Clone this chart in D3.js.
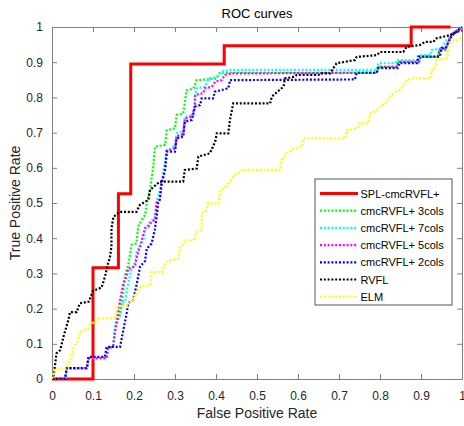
<!DOCTYPE html>
<html>
<head>
<meta charset="utf-8">
<script src="https://cdn.jsdelivr.net/npm/d3@7"></script>
<style>
  body { margin: 0; background: #fff; }
  text { font-family: "Liberation Sans", Arial, sans-serif; }
</style>
</head>
<body>
<script>
// ROC points, [false positive rate, true positive rate]
var rocSPL = [[0,0],[0.1,0],[0.1,0.316],[0.162,0.316],[0.162,0.526],[0.192,0.526],[0.192,0.895],[0.42,0.895],[0.42,0.947],[0.876,0.947],[0.876,1],[0.972,1]];

var roc3cols = [[0,0.002],[0.032,0.002],[0.036,0.031],[0.085,0.031],[0.089,0.059],[0.133,0.059],[0.137,0.087],[0.149,0.092],[0.153,0.125],[0.157,0.158],[0.165,0.177],[0.169,0.205],[0.174,0.25],[0.178,0.295],[0.186,0.324],[0.194,0.381],[0.206,0.385],[0.21,0.433],[0.219,0.452],[0.227,0.466],[0.231,0.499],[0.239,0.537],[0.247,0.603],[0.251,0.66],[0.276,0.665],[0.28,0.707],[0.3,0.712],[0.304,0.75],[0.32,0.754],[0.328,0.82],[0.345,0.825],[0.353,0.849],[0.401,0.853],[0.409,0.87],[0.792,0.87],[0.796,0.887],[0.841,0.887],[0.845,0.901],[0.895,0.901],[0.899,0.915],[0.941,0.915],[0.945,0.935],[0.96,0.935],[0.975,0.98],[1,1]];

var roc7cols = [[0,0.002],[0.032,0.002],[0.036,0.031],[0.085,0.031],[0.089,0.059],[0.133,0.059],[0.137,0.087],[0.149,0.092],[0.154,0.153],[0.162,0.196],[0.166,0.215],[0.178,0.22],[0.186,0.272],[0.194,0.314],[0.202,0.329],[0.207,0.366],[0.215,0.376],[0.223,0.395],[0.227,0.433],[0.235,0.437],[0.239,0.447],[0.251,0.456],[0.255,0.508],[0.259,0.518],[0.267,0.556],[0.271,0.584],[0.28,0.651],[0.292,0.655],[0.3,0.665],[0.304,0.698],[0.32,0.703],[0.324,0.745],[0.345,0.75],[0.349,0.807],[0.353,0.826],[0.373,0.83],[0.382,0.854],[0.402,0.859],[0.414,0.873],[0.43,0.878],[0.792,0.878],[0.796,0.897],[0.837,0.897],[0.841,0.906],[0.89,0.906],[0.893,0.92],[0.922,0.92],[0.926,0.935],[0.95,0.939],[0.959,0.958],[0.971,0.972],[0.975,0.982],[1,1]];

var roc5cols = [[0,0.002],[0.032,0.002],[0.036,0.031],[0.085,0.031],[0.089,0.059],[0.133,0.059],[0.137,0.087],[0.149,0.092],[0.153,0.13],[0.158,0.16],[0.162,0.187],[0.166,0.224],[0.174,0.272],[0.182,0.291],[0.186,0.314],[0.202,0.319],[0.207,0.347],[0.215,0.38],[0.227,0.428],[0.235,0.433],[0.243,0.447],[0.251,0.452],[0.255,0.5],[0.263,0.51],[0.267,0.55],[0.276,0.6],[0.28,0.648],[0.3,0.655],[0.304,0.69],[0.32,0.695],[0.324,0.74],[0.341,0.745],[0.349,0.778],[0.349,0.807],[0.369,0.812],[0.373,0.826],[0.39,0.83],[0.398,0.845],[0.414,0.849],[0.422,0.864],[0.438,0.868],[0.792,0.87],[0.796,0.887],[0.841,0.887],[0.845,0.901],[0.895,0.901],[0.899,0.915],[0.941,0.915],[0.945,0.935],[0.96,0.94],[0.975,0.98],[1,1]];

var roc2cols = [[0,0],[0.032,0],[0.036,0.031],[0.085,0.031],[0.089,0.063],[0.129,0.063],[0.133,0.091],[0.166,0.091],[0.174,0.139],[0.182,0.186],[0.186,0.215],[0.198,0.224],[0.207,0.272],[0.215,0.32],[0.227,0.335],[0.231,0.37],[0.243,0.385],[0.251,0.425],[0.255,0.46],[0.259,0.5],[0.263,0.51],[0.267,0.556],[0.276,0.594],[0.28,0.646],[0.3,0.646],[0.304,0.684],[0.32,0.688],[0.324,0.731],[0.341,0.736],[0.349,0.774],[0.361,0.778],[0.365,0.797],[0.393,0.797],[0.397,0.816],[0.414,0.821],[0.43,0.826],[0.434,0.849],[0.739,0.851],[0.743,0.87],[0.792,0.87],[0.796,0.883],[0.843,0.883],[0.847,0.897],[0.89,0.897],[0.894,0.916],[0.946,0.916],[0.95,0.94],[0.96,0.94],[0.975,0.975],[1,1]];

var rocRVFL = [[0,0],[0.003,0],[0.011,0.073],[0.02,0.082],[0.028,0.12],[0.04,0.168],[0.044,0.19],[0.06,0.19],[0.068,0.215],[0.09,0.22],[0.1,0.25],[0.121,0.26],[0.129,0.29],[0.137,0.33],[0.141,0.343],[0.145,0.376],[0.145,0.428],[0.15,0.461],[0.166,0.475],[0.206,0.475],[0.214,0.494],[0.235,0.509],[0.239,0.537],[0.263,0.561],[0.32,0.561],[0.324,0.594],[0.353,0.598],[0.357,0.632],[0.385,0.641],[0.398,0.674],[0.402,0.698],[0.43,0.698],[0.434,0.736],[0.442,0.783],[0.532,0.783],[0.536,0.802],[0.565,0.831],[0.568,0.854],[0.593,0.859],[0.597,0.864],[0.65,0.864],[0.654,0.868],[0.678,0.868],[0.694,0.897],[0.739,0.906],[0.743,0.915],[0.792,0.92],[0.8,0.929],[0.857,0.929],[0.865,0.944],[0.898,0.949],[0.91,0.958],[0.93,0.958],[0.938,0.968],[0.971,0.977],[0.987,0.986],[1,0.99]];

var rocELM = [[0,0],[0.007,0.026],[0.036,0.031],[0.048,0.064],[0.052,0.087],[0.064,0.111],[0.068,0.134],[0.088,0.144],[0.093,0.153],[0.113,0.172],[0.154,0.172],[0.158,0.205],[0.182,0.21],[0.195,0.219],[0.215,0.262],[0.239,0.267],[0.243,0.304],[0.268,0.304],[0.276,0.328],[0.288,0.338],[0.308,0.342],[0.312,0.375],[0.321,0.385],[0.325,0.394],[0.345,0.394],[0.353,0.418],[0.365,0.423],[0.365,0.47],[0.377,0.48],[0.381,0.499],[0.406,0.499],[0.41,0.532],[0.418,0.541],[0.434,0.561],[0.446,0.58],[0.459,0.589],[0.463,0.594],[0.556,0.594],[0.56,0.622],[0.572,0.641],[0.58,0.646],[0.588,0.655],[0.609,0.66],[0.613,0.684],[0.715,0.684],[0.719,0.707],[0.744,0.712],[0.751,0.726],[0.772,0.726],[0.776,0.754],[0.792,0.764],[0.8,0.773],[0.816,0.787],[0.824,0.802],[0.837,0.816],[0.849,0.821],[0.857,0.835],[0.865,0.849],[0.873,0.854],[0.922,0.854],[0.926,0.878],[0.934,0.882],[0.938,0.906],[0.963,0.911],[0.967,0.939],[0.971,0.958],[0.988,0.963],[1,0.972]];

// Legend names and colours, in plot order
var seriesNames = ["SPL-cmcRVFL+", "cmcRVFL+ 3cols", "cmcRVFL+ 7cols", "cmcRVFL+ 5cols", "cmcRVFL+ 2cols", "RVFL", "ELM"];
var seriesColors = ["#ff0000", "#00ff00", "#00ffff", "#ff00ff", "#0000ff", "#000000", "#ffff00"];
var seriesData = [rocSPL, roc3cols, roc7cols, roc5cols, roc2cols, rocRVFL, rocELM];

var tickValues = [0, 0.1, 0.2, 0.3, 0.4, 0.5, 0.6, 0.7, 0.8, 0.9, 1];
var tickLabels = ["0", "0.1", "0.2", "0.3", "0.4", "0.5", "0.6", "0.7", "0.8", "0.9", "1"];

// Plot box in pixels
var margin = {top: 27, right: 2, bottom: 47, left: 52},
    fullWidth = 464, fullHeight = 426,
    width = fullWidth - margin.left - margin.right,
    height = fullHeight - margin.top - margin.bottom;

var axisColor = "#808080";
var textColor = "#262626";

var svg = d3.select("body")
    .append("svg")
    .attr("width", fullWidth)
    .attr("height", fullHeight);

var x = d3.scaleLinear().domain([0, 1]).range([0, width]);
var y = d3.scaleLinear().domain([0, 1]).range([height, 0]);

var g = svg.append("g")
    .attr("transform", "translate(" + margin.left + "," + margin.top + ")");

// Axes, MATLAB style: ticks inside, box all round
function styleAxis(sel) {
    sel.select(".domain").attr("stroke", axisColor);
    sel.selectAll(".tick line").attr("stroke", axisColor);
    sel.selectAll(".tick text")
        .attr("fill", textColor)
        .style("font-size", "12px");
}

g.append("g")
    .attr("transform", "translate(0," + height + ")")
    .call(d3.axisBottom(x).tickValues(tickValues)
        .tickFormat(function(d, i) { return tickLabels[i]; })
        .tickSizeInner(-5).tickSizeOuter(0).tickPadding(12))
    .call(styleAxis);

g.append("g")
    .call(d3.axisTop(x).tickValues(tickValues).tickFormat("")
        .tickSizeInner(-5).tickSizeOuter(0))
    .call(styleAxis);

g.append("g")
    .call(d3.axisLeft(y).tickValues(tickValues)
        .tickFormat(function(d, i) { return tickLabels[i]; })
        .tickSizeInner(-5).tickSizeOuter(0).tickPadding(9))
    .call(styleAxis);

g.append("g")
    .attr("transform", "translate(" + width + ",0)")
    .call(d3.axisRight(y).tickValues(tickValues).tickFormat("")
        .tickSizeInner(-5).tickSizeOuter(0))
    .call(styleAxis);

// Curves
var line = d3.line()
    .x(function(d) { return x(d[0]); })
    .y(function(d) { return y(d[1]); });

seriesData.forEach(function(data, i) {
    g.append("path")
        .datum(data)
        .attr("fill", "none")
        .attr("stroke", seriesColors[i])
        .attr("stroke-width", i == 0 ? 3 : 2.2)
        .attr("stroke-dasharray", i == 0 ? null : "2,1.8")
        .attr("d", line);
});

// Title and axis labels
svg.append("text")
    .attr("x", margin.left + width / 2)
    .attr("y", 18)
    .attr("text-anchor", "middle")
    .attr("fill", "#000")
    .style("font-size", "13px")
    .text("ROC curves");

svg.append("text")
    .attr("x", margin.left + width / 2)
    .attr("y", 418)
    .attr("text-anchor", "middle")
    .attr("fill", textColor)
    .style("font-size", "14px")
    .text("False Positive Rate");

svg.append("text")
    .attr("transform", "translate(20," + (margin.top + height / 2) + ") rotate(-90)")
    .attr("text-anchor", "middle")
    .attr("fill", textColor)
    .style("font-size", "14px")
    .text("True Positive Rate");

// Legend
var legend = svg.append("g")
    .attr("transform", "translate(315,179)");

legend.append("rect")
    .attr("width", 137)
    .attr("height", 126)
    .attr("fill", "#fff")
    .attr("stroke", "#555")
    .attr("stroke-width", 1);

seriesNames.forEach(function(name, i) {
    var ly = 14.5 + i * 17.2;
    legend.append("line")
        .attr("x1", 5)
        .attr("x2", 43)
        .attr("y1", ly)
        .attr("y2", ly)
        .attr("stroke", seriesColors[i])
        .attr("stroke-width", i == 0 ? 3 : 2.2)
        .attr("stroke-dasharray", i == 0 ? null : "2,1.8");
    legend.append("text")
        .attr("x", 45.5)
        .attr("y", ly + 4)
        .attr("fill", "#000")
        .style("font-size", "11px")
        .text(name);
});
</script>
</body>
</html>
